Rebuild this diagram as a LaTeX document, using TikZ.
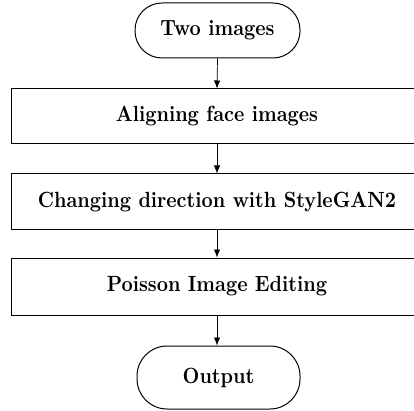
\documentclass[tikz,border=0pt]{standalone}
\usepackage{fontspec}
\usetikzlibrary{arrows.meta}
% labels: 10pt bold, enlarged and set slightly taller than wide
\newcommand{\tallbf}[1]{\scalebox{1.95}[2.2]{#1}}
\begin{document}
\begin{tikzpicture}[x=1pt,y=1pt,
  labeltext/.style={font=\fontsize{10}{12}\selectfont\bfseries, text=black},
  terminal/.style={labeltext, draw=black, line width=1pt, rounded corners=27pt,
    minimum width=165pt, inner sep=0pt},
  stepbox/.style={labeltext, draw=black, line width=1pt, minimum width=412pt,
    inner sep=0pt},
  flow/.style={draw=black, line width=0.7pt, -{Latex[length=8pt,width=6.5pt]}}
]
\useasboundingbox (0,0) rectangle (414,-411);
\node[terminal, minimum height=55pt] (start) at (217.5,-30.5) {\tallbf{Two images}};
\node[stepbox, minimum height=55pt] (align) at (217,-116.5) {\tallbf{Aligning face images}};
\node[stepbox, minimum height=56pt] (style) at (217,-202) {\tallbf{Changing direction with StyleGAN2}};
\node[stepbox, minimum height=57pt] (poisson) at (217,-286.5) {\tallbf{Poisson Image Editing}};
\node[terminal, minimum height=63pt, minimum width=163pt, rounded corners=30pt] (out) at (218.5,-377.5) {\tallbf{Output}};
\draw[flow] (start.south) -- (align.north);
\draw[flow] (align.south) -- (style.north);
\draw[flow] (style.south) -- (poisson.north);
\draw[flow] (poisson.south) -- (out.north -| poisson.south);
\end{tikzpicture}
\end{document}
